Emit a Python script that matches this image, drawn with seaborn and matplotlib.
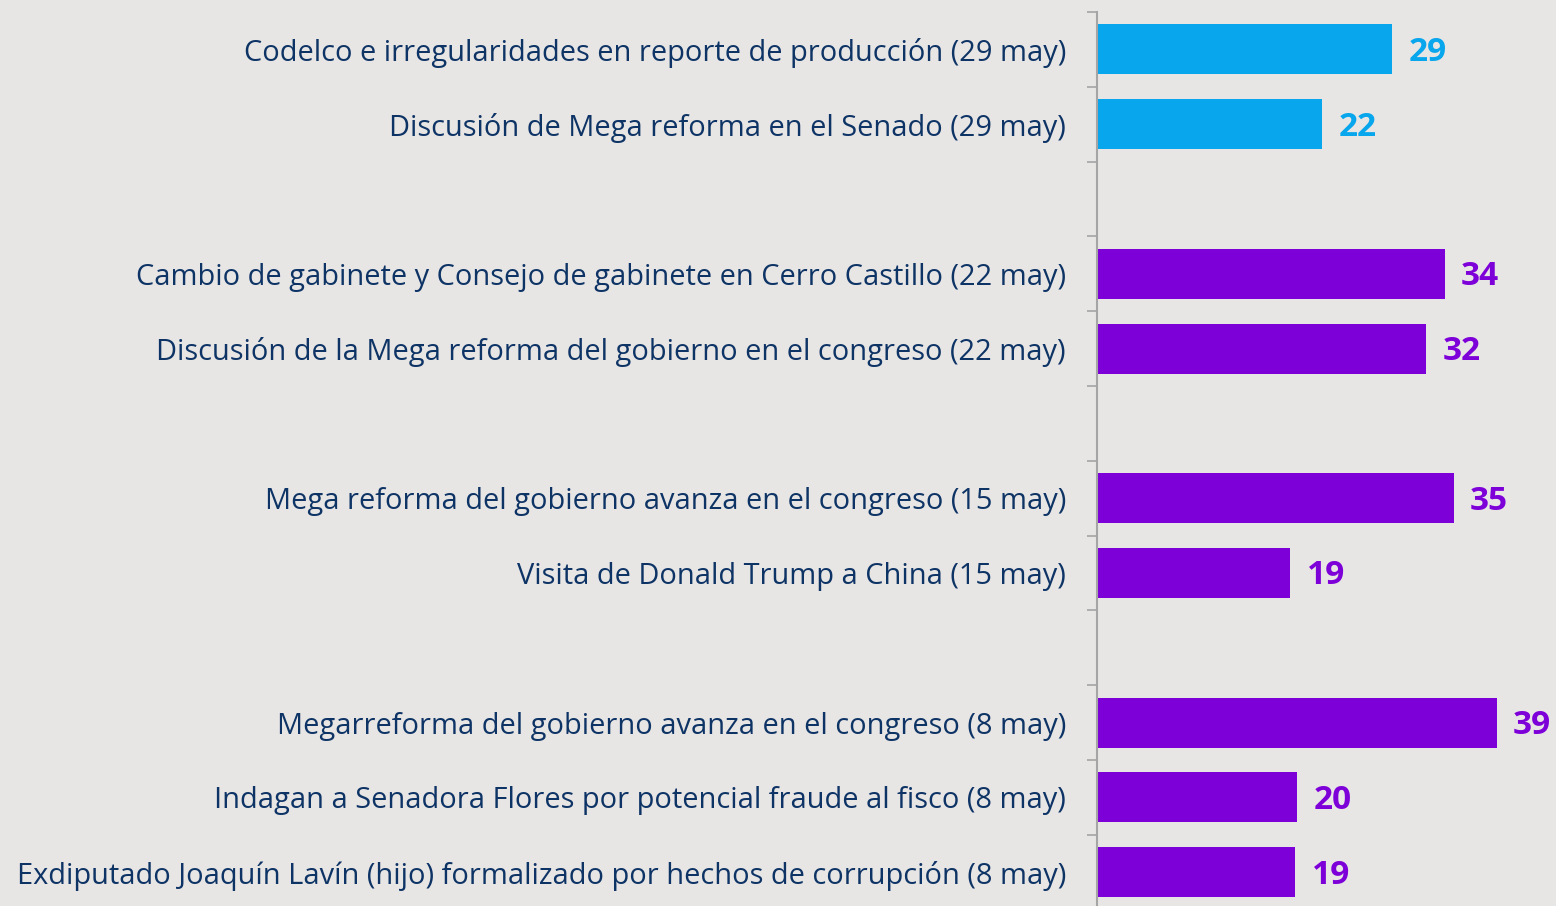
import numpy as np
import pandas as pd
import seaborn as sns
import matplotlib.pyplot as plt

# rows from top to bottom; blank strings are spacer rows between weeks
labels = [
    "Codelco e irregularidades en reporte de producción (29 may)",
    "Discusión de Mega reforma en el Senado (29 may)",
    " ",
    "Cambio de gabinete y Consejo de gabinete en Cerro Castillo (22 may)",
    "Discusión de la Mega reforma del gobierno en el congreso (22 may)",
    "  ",
    "Mega reforma del gobierno avanza en el congreso (15 may)",
    "Visita de Donald Trump a China (15 may)",
    "   ",
    "Megarreforma del gobierno avanza en el congreso (8 may)",
    "Indagan a Senadora Flores por potencial fraude al fisco (8 may)",
    "Exdiputado Joaquín Lavín (hijo) formalizado por hechos de corrupción (8 may)",
]
values = [28.9, 22.0, np.nan, 34.0, 32.2, np.nan, 34.9, 18.9, np.nan, 39.1, 19.6, 19.4]
groups = ["actual", "actual", "actual", "previa", "previa", "previa",
          "previa", "previa", "previa", "previa", "previa", "previa"]

palette = {"actual": "#08A6EC", "previa": "#7E00D9"}
bg = "#E8E6E5"
text_color = "#0E3466"

df = pd.DataFrame({"label": labels, "value": values, "group": groups})

plt.rcParams["font.family"] = ["Open Sans", "DejaVu Sans"]

fig = plt.figure(figsize=(15.56, 9.06), dpi=100, facecolor=bg)
ax = fig.add_axes([1097 / 1556, -3.6 / 906, 459 / 1556, 897.6 / 906])
ax.set_facecolor(bg)

sns.barplot(data=df, y="label", x="value", hue="group", order=labels,
            palette=palette, dodge=False, width=0.67, legend=False,
            saturation=1, ax=ax)

ax.set_xlim(0, 44.9)
ax.set_ylim(len(labels) - 0.5, -0.5)

# value labels
for i, (v, g) in enumerate(zip(values, groups)):
    if not np.isnan(v):
        ax.text(v + 1.6, i + 0.04, f"{v:.0f}", va="center", ha="left",
                fontsize=24, fontweight="bold", color=palette[g])

for s in ["top", "right", "bottom"]:
    ax.spines[s].set_visible(False)
ax.spines["left"].set_color("#A5A5A5")
ax.spines["left"].set_linewidth(1.5)

ax.set_xticks([])
ax.set_xlabel("")
ax.set_ylabel("")
ax.tick_params(axis="y", which="major", length=0, pad=31 * 0.72,
               labelsize=20.9, labelcolor=text_color)
ax.set_yticks(np.arange(-0.5, len(labels), 1), minor=True)
ax.tick_params(axis="y", which="minor", length=7.5, width=1.2,
               color="#A5A5A5")

fig.savefig("out.png", dpi=100, facecolor=bg)
